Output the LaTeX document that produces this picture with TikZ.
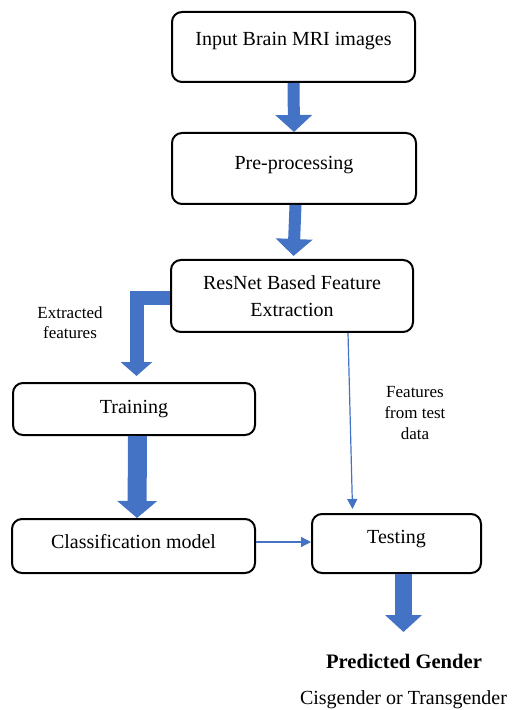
\documentclass[tikz,border=0pt]{standalone}
\usepackage{fontspec}
\setmainfont{Liberation Serif}
\usetikzlibrary{arrows.meta}
\definecolor{wordblue}{RGB}{68,114,196}

\begin{document}
\begin{tikzpicture}[x=0.5pt,y=-0.5pt,
    box/.style={draw=black,line width=1pt,rounded corners=5pt,align=center,
        font=\fontsize{10}{13.5}\selectfont,inner sep=2pt},
    lift/.style={text height=7pt,text depth=#1},
    bigarrow/.style={wordblue,line width=#1,line join=miter,
        -{Triangle[width=18pt,length=8.5pt]}},
    feedline/.style={wordblue,line width=0.6pt,-{Triangle[width=5pt,length=5pt]}},
    note/.style={align=center,font=\fontsize{8.5}{10}\selectfont}]
    \useasboundingbox (0,0) rectangle (512,710);

    % boxes
    \node[box,lift=8.4pt,minimum width=121.5pt,minimum height=35pt] (inp) at (293.5,47) {Input Brain MRI images};
    \node[box,lift=5.9pt,minimum width=122pt,minimum height=35.5pt] (pre) at (294,168.5) {Pre-processing};
    \node[box,minimum width=121pt,minimum height=36pt] (res) at (292,296) {ResNet Based Feature\\Extraction};
    \node[box,lift=2.4pt,minimum width=121pt,minimum height=26pt] (train) at (134,409) {Training};
    \node[box,lift=4.4pt,minimum width=121.5pt,minimum height=27pt] (class) at (133.5,546) {Classification model};
    \node[box,lift=6.9pt,minimum width=84.5pt,minimum height=29.5pt] (test) at (396.5,543.5) {Testing};

    % labels
    \node[note] (extr) at (70,323) {Extracted\\features};
    \node[note,font=\fontsize{8.5}{10.5}\selectfont] (feat) at (415,413) {Features\\from test\\data};
    \node[font=\fontsize{10.3}{12}\selectfont\bfseries] (pred) at (404,661) {Predicted Gender};
    \node[font=\fontsize{10}{12}\selectfont] (cis) at (403.5,700) {Cisgender or Transgender};
    \coordinate (out) at (403.5,632);

    % block arrows
    \draw[bigarrow=6pt] (inp.south) -- (pre.north);
    \draw[bigarrow=6pt] ([xshift=0.75pt]pre.south) -- ([xshift=0.75pt,yshift=1.5pt]res.north);
    \draw[bigarrow=7pt,-{Triangle[width=15.5pt,length=7pt]}] ([yshift=-1.25pt]res.west) -| ([xshift=1.25pt,yshift=3pt]train.north);
    \draw[bigarrow=9.5pt,-{Triangle[width=19.5pt,length=8.5pt]}] ([xshift=1.75pt]train.south) -- ([xshift=1.75pt]class.north);
    \draw[bigarrow=8.5pt] ([xshift=3.5pt]test.south) -- (out);

    % thin arrows
    \draw[feedline] ([xshift=28pt]res.south) -- ([xshift=-22pt,yshift=2pt]test.north);
    \draw[feedline] ([yshift=2pt]class.east) -- ([yshift=0.75pt]test.west);
\end{tikzpicture}
\end{document}
